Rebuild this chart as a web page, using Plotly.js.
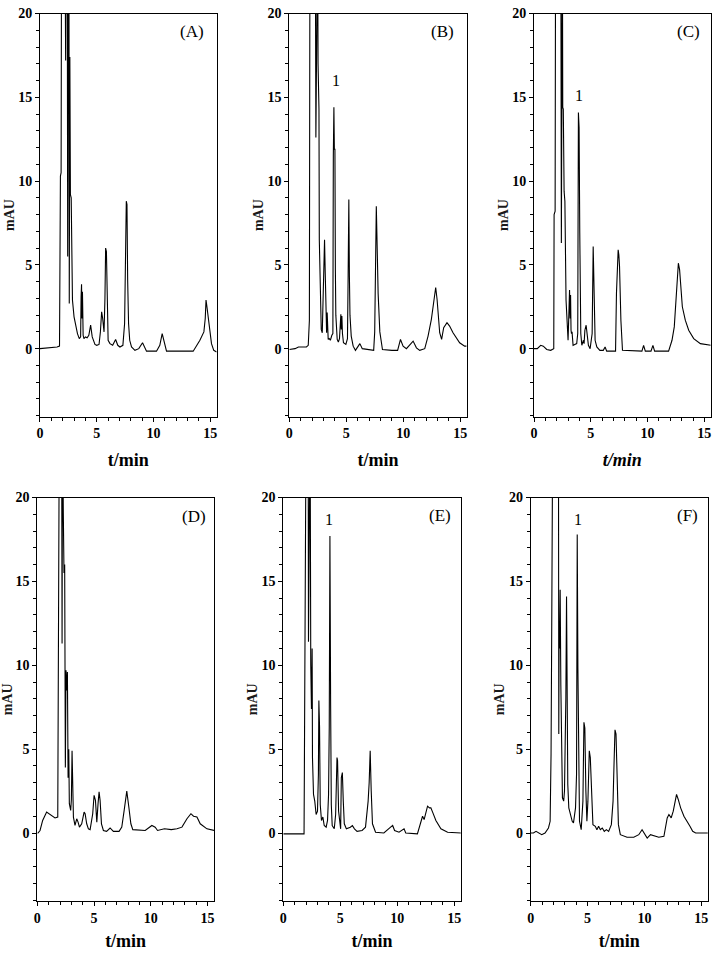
<!DOCTYPE html>
<html><head><meta charset="utf-8">
<script src="https://cdn.plot.ly/plotly-3.0.1.min.js"></script>
<style>html,body{margin:0;padding:0;background:#fff}#chart{width:719px;height:954px}</style>
</head><body><div id="chart"></div>
<script>
// Retention time (min) and absorbance (mAU)
const tA=[0,0.5,1.0,1.5,1.72,1.74,1.8,1.86,1.9,2.2,2.26,2.3,2.4,2.44,2.5,2.55,2.58,2.63,2.68,2.75,2.8,2.86,3.0,3.15,3.3,3.46,3.58,3.62,3.66,3.7,3.74,3.8,3.87,4.0,4.15,4.3,4.46,4.6,4.84,5.0,5.2,5.32,5.43,5.52,5.64,5.72,5.78,5.85,5.92,6.0,6.16,6.4,6.66,6.85,7.04,7.3,7.45,7.52,7.6,7.66,7.72,7.8,7.9,8.06,8.36,8.7,9.03,9.38,10.26,10.55,10.76,10.95,11.14,12.0,13.49,14.08,14.43,14.55,14.62,14.7,14.9,15.1,15.3,15.55];
const yA=[0,0.02,0.05,0.1,0.15,10.3,10.3,10.5,25,25,17.2,25,25,5.5,25,25,2.7,17.4,9.2,9.0,4.0,2.9,1.9,1.3,0.9,0.6,0.7,3.1,3.84,1.8,3.4,0.8,0.6,0.7,0.65,0.8,1.4,0.7,0.25,0.2,0.25,1.0,2.2,1.8,1.0,3.0,6.0,5.8,1.5,0.5,0.3,0.2,0.55,0.2,0.1,0.2,1.5,3.9,8.8,8.6,4.1,1.5,0.5,0.1,-0.1,0.0,0.35,-0.15,-0.15,0.2,0.9,0.3,-0.15,-0.15,-0.15,0.5,1.0,1.8,2.9,2.5,1.5,0.3,-0.1,-0.2];

const tB=[0,0.5,0.8,1.2,1.5,1.66,1.72,1.76,1.81,2.28,2.33,2.37,2.48,2.52,2.57,2.6,2.63,2.68,2.74,2.8,2.89,2.98,3.04,3.09,3.15,3.2,3.27,3.32,3.37,3.41,3.5,3.6,3.73,3.82,3.86,3.91,3.95,4.0,4.04,4.08,4.2,4.3,4.4,4.52,4.56,4.61,4.66,4.75,4.96,5.1,5.16,5.22,5.27,5.32,5.43,5.6,5.8,6.19,6.4,7.0,7.4,7.49,7.56,7.63,7.68,7.74,7.79,7.94,8.17,9.0,9.5,9.75,9.98,10.27,10.86,11.15,11.44,11.88,12.17,12.46,12.72,12.84,12.96,13.19,13.36,13.54,13.83,14.06,14.36,14.94,15.38,15.55];
const yB=[-0.05,0,0.1,0.1,0.1,0.2,1.7,1.7,25,25,12.6,25,25,17.0,14.4,14.3,6.5,5.3,3.1,1.15,0.95,4.3,5.0,6.5,4.5,1.95,0.95,2.15,1.0,0.55,0.6,0.5,0.8,0.9,11.5,14.4,11.9,11.9,4.7,2.0,0.55,0.4,0.6,2.05,1.15,1.95,0.9,0.35,0.25,0.6,4.4,8.9,4.3,2.0,0.75,0.15,-0.1,0.3,0,-0.05,-0.1,1.0,4.1,8.5,6.9,5.0,3.3,1.0,-0.05,-0.1,-0.1,0.55,0.15,0,0.45,0.05,-0.1,0,0.75,1.75,3.3,3.65,2.95,0.95,0.55,1.25,1.55,1.35,0.95,0.35,0.15,0.15];

const tC=[0,0.29,0.59,0.82,1.12,1.47,1.74,1.77,1.86,1.9,2.36,2.41,2.45,2.5,2.53,2.58,2.65,2.72,2.82,2.94,3.0,3.08,3.13,3.18,3.22,3.26,3.3,3.35,3.44,3.59,3.76,3.85,3.91,3.97,4.03,4.12,4.21,4.35,4.41,4.48,4.59,4.79,4.94,5.12,5.21,5.29,5.38,5.53,5.8,6.1,6.26,6.4,7.18,7.26,7.34,7.41,7.47,7.53,7.65,7.79,9.5,9.65,9.8,10.3,10.47,10.62,11.85,12.15,12.35,12.59,12.71,12.82,13.06,13.32,13.62,14.06,14.65,15.56];
const yC=[0,0,0.2,0.15,-0.05,-0.1,0,8.0,8.2,25,25,6.3,25,25,14.4,14.3,9.4,8.8,2.9,0.7,0.5,2.3,3.5,1.8,3.2,1.1,0.9,1.0,0.2,0.25,0.3,0.9,14.1,13.2,6.9,0.9,0.2,0.5,0.3,1.1,1.4,0.2,0.0,0.9,6.1,3.3,0.5,0.1,-0.1,-0.1,0.1,-0.15,-0.15,3.3,4.5,5.9,5.6,4.9,1.7,-0.1,-0.15,0.2,-0.15,-0.15,0.2,-0.15,-0.15,0.5,1.3,3.9,5.1,4.7,2.5,1.7,1.1,0.6,0.3,0.2];

const tD=[0,0.06,0.24,0.47,0.82,1.12,1.56,1.8,1.85,1.9,1.94,2.14,2.18,2.22,2.29,2.35,2.41,2.47,2.53,2.59,2.65,2.71,2.77,2.82,2.94,3.0,3.06,3.12,3.18,3.32,3.47,3.59,3.71,3.91,4.12,4.21,4.35,4.5,4.65,4.88,5.0,5.12,5.24,5.35,5.44,5.53,5.65,5.82,6.1,6.41,6.7,7.2,7.44,7.65,7.88,8.06,8.24,8.41,9.5,10.09,10.38,10.59,11.2,11.8,12.3,12.74,13.18,13.53,13.76,14.06,14.35,14.94,15.59];
const yD=[0,0,0.15,0.75,1.25,1.1,0.9,0.95,12.1,12.3,25,25,11.3,25,19.1,15.5,16,3.9,9.7,8.5,9.6,3.3,5.0,1.75,1.35,2.0,4.9,2.5,0.95,0.45,0.85,0.65,0.35,0.55,1.25,1.15,0.55,0.25,0.2,1.15,2.25,1.95,0.65,1.75,2.45,1.95,0.55,0.15,0.1,0.3,0.1,0.1,0.35,1.35,2.5,1.55,0.55,0.2,0.15,0.45,0.35,0.15,0.25,0.2,0.25,0.35,0.85,1.15,1.0,0.95,0.55,0.25,0.15];

const tE=[0,1.0,1.82,1.85,1.9,1.94,2.0,2.18,2.21,2.26,2.35,2.41,2.47,2.53,2.56,2.65,2.76,2.88,3.0,3.08,3.12,3.18,3.24,3.35,3.47,3.59,3.76,3.88,3.97,4.03,4.09,4.15,4.21,4.29,4.47,4.59,4.71,4.76,4.85,4.94,5.03,5.09,5.18,5.26,5.35,5.53,5.88,6.06,6.24,6.47,6.91,7.21,7.44,7.53,7.62,7.71,7.82,8.09,8.82,9.41,9.59,9.76,10.15,10.59,10.74,11.76,12.06,12.21,12.35,12.53,12.65,12.82,12.94,13.12,13.38,13.82,14.41,15.59];
const yE=[-0.05,-0.05,-0.05,3.9,13.8,14,25,25,11.4,25,25,10.0,7.4,11.0,4.5,2.3,1.9,1.1,1.3,3.5,7.9,6.3,1.7,0.75,0.95,0.45,0.35,0.75,2.3,6.3,17.7,7.8,1.7,0.45,0.25,1.1,4.5,4.3,1.3,0.55,0.25,3.3,3.6,1.9,0.55,0.25,0.35,0.45,0.25,0.1,0.15,0.35,1.9,3.0,4.9,2.5,0.55,0.05,0,0.35,0.45,0.15,0.05,0.25,0,-0.05,0.75,1.0,0.8,1.3,1.6,1.5,1.5,1.2,0.75,0.25,0.05,0];

const tF=[0,0.24,0.47,0.68,0.97,1.26,1.56,1.71,1.79,1.85,1.94,2.44,2.47,2.5,2.53,2.59,2.65,2.71,2.79,2.9,2.97,3.03,3.09,3.15,3.21,3.26,3.35,3.47,3.65,3.76,3.94,4.03,4.09,4.15,4.21,4.29,4.44,4.59,4.68,4.76,4.85,4.94,5.03,5.15,5.24,5.35,5.47,5.68,5.82,5.97,6.12,6.29,6.47,6.65,6.85,7.09,7.24,7.32,7.41,7.5,7.59,7.71,7.88,8.47,9.06,9.5,9.79,10.0,10.24,10.53,10.82,11.26,11.71,11.85,12.0,12.15,12.35,12.53,12.68,12.82,12.97,13.18,13.47,13.76,14.0,14.24,14.5,15.59];
const yF=[0,0,0.1,0,-0.1,0,0.3,0.7,4.7,12.4,25,25,5.9,12.6,11.0,14.5,8.8,4.5,2.1,1.9,2.5,5.3,8.0,14.1,8.6,2.9,1.5,1.1,0.7,0.6,1.5,3.5,17.8,9.8,2.9,0.7,0.2,1.9,6.6,6.25,2.5,0.7,1.9,4.9,4.5,1.9,0.5,0.4,0.2,0.4,0.2,0.3,0.1,0.2,0.1,0.5,1.9,4.0,6.15,5.9,2.7,0.5,-0.1,-0.25,-0.25,-0.1,0.2,0.0,-0.3,-0.1,-0.15,-0.25,-0.2,0.3,0.9,1.1,0.9,1.3,1.9,2.3,2.0,1.5,1.0,0.7,0.4,0.1,0.0,0];

const panelLabels=['(A)','(B)','(C)','(D)','(E)','(F)'];
const peakLabel='1';
const xTickVals=[0,5,10,15];
const yTickVals=[0,5,10,15,20];
const xTitle='t/min';
const yTitle='mAU';

const times=[tA,tB,tC,tD,tE,tF];
const values=[yA,yB,yC,yD,yE,yF];

// layout geometry
const xDom=[[0.0556,0.3014],[0.4024,0.6491],[0.7427,0.9885],[0.0519,0.2976],[0.3940,0.6408],[0.7381,0.9843]];
const yDom=[[0.5634,0.9858],[0.5634,0.9858],[0.5634,0.9858],[0.0556,0.4785],[0.0556,0.4785],[0.0556,0.4785]];
const labelPos=[[13.4,18.9],[13.4,18.9],[13.6,18.9],[13.8,18.85],[13.7,18.9],[13.8,18.9]];
const peakPos={1:[4.08,16.0],2:[4.0,15.1],4:[3.97,18.7],5:[4.12,18.7]};

const serif='"Liberation Serif","Times New Roman",serif';
const traces=[];
const layout={
  width:719,height:954,margin:{l:0,r:0,t:0,b:0},
  paper_bgcolor:'#fff',plot_bgcolor:'#fff',showlegend:false,
  font:{family:serif,color:'#000'},
  annotations:[]
};
for(let i=0;i<6;i++){
  const s=i===0?'':String(i+1);
  const row1=i<3;
  traces.push({x:times[i],y:values[i],xaxis:'x'+s,yaxis:'y'+s,type:'scatter',mode:'lines',
    line:{color:'#000',width:1.1},hoverinfo:'skip'});
  layout['xaxis'+s]={domain:xDom[i],anchor:'y'+s,range:[0,15.56],tickvals:xTickVals,
    ticks:'outside',ticklen:4,tickwidth:1,tickcolor:'#000',showline:true,linecolor:'#000',linewidth:1,mirror:true,
    showgrid:false,zeroline:false,automargin:false,
    minor:{dtick:1,tick0:0,ticks:'outside',ticklen:3,tickcolor:'#000',showgrid:false},
    tickfont:{family:serif,size:14,weight:'bold',color:'#000'},
    title:{text:xTitle,standoff:row1?13:9,font:{family:serif,size:18,weight:'bold',style:(i===2?'italic':'normal'),color:'#000'}}};
  layout['yaxis'+s]={domain:yDom[i],anchor:'x'+s,range:[-4.05,20],tickvals:yTickVals,
    ticks:'outside',ticklen:4,tickwidth:1,tickcolor:'#000',showline:true,linecolor:'#000',linewidth:1,mirror:true,
    showgrid:false,zeroline:false,automargin:false,
    minor:{dtick:1,tick0:0,ticks:'outside',ticklen:3,tickcolor:'#000',showgrid:false},
    tickfont:{family:serif,size:14,weight:'bold',color:'#000'},
    title:{text:yTitle,standoff:0,font:{family:serif,size:14,weight:'bold',color:'#1a1a1a'}}};
  layout.annotations.push({xref:'x'+s,yref:'y'+s,x:labelPos[i][0],y:labelPos[i][1],text:panelLabels[i],
    showarrow:false,font:{family:serif,size:17,color:'#000'},xanchor:'center',yanchor:'middle'});
  if(peakPos[i]){
    layout.annotations.push({xref:'x'+s,yref:'y'+s,x:peakPos[i][0],y:peakPos[i][1],text:peakLabel,
      showarrow:false,font:{family:serif,size:16,color:'#000'},xanchor:'center',yanchor:'middle'});
  }
}
Plotly.newPlot('chart',traces,layout,{staticPlot:true,displayModeBar:false});
</script>
</body></html>
